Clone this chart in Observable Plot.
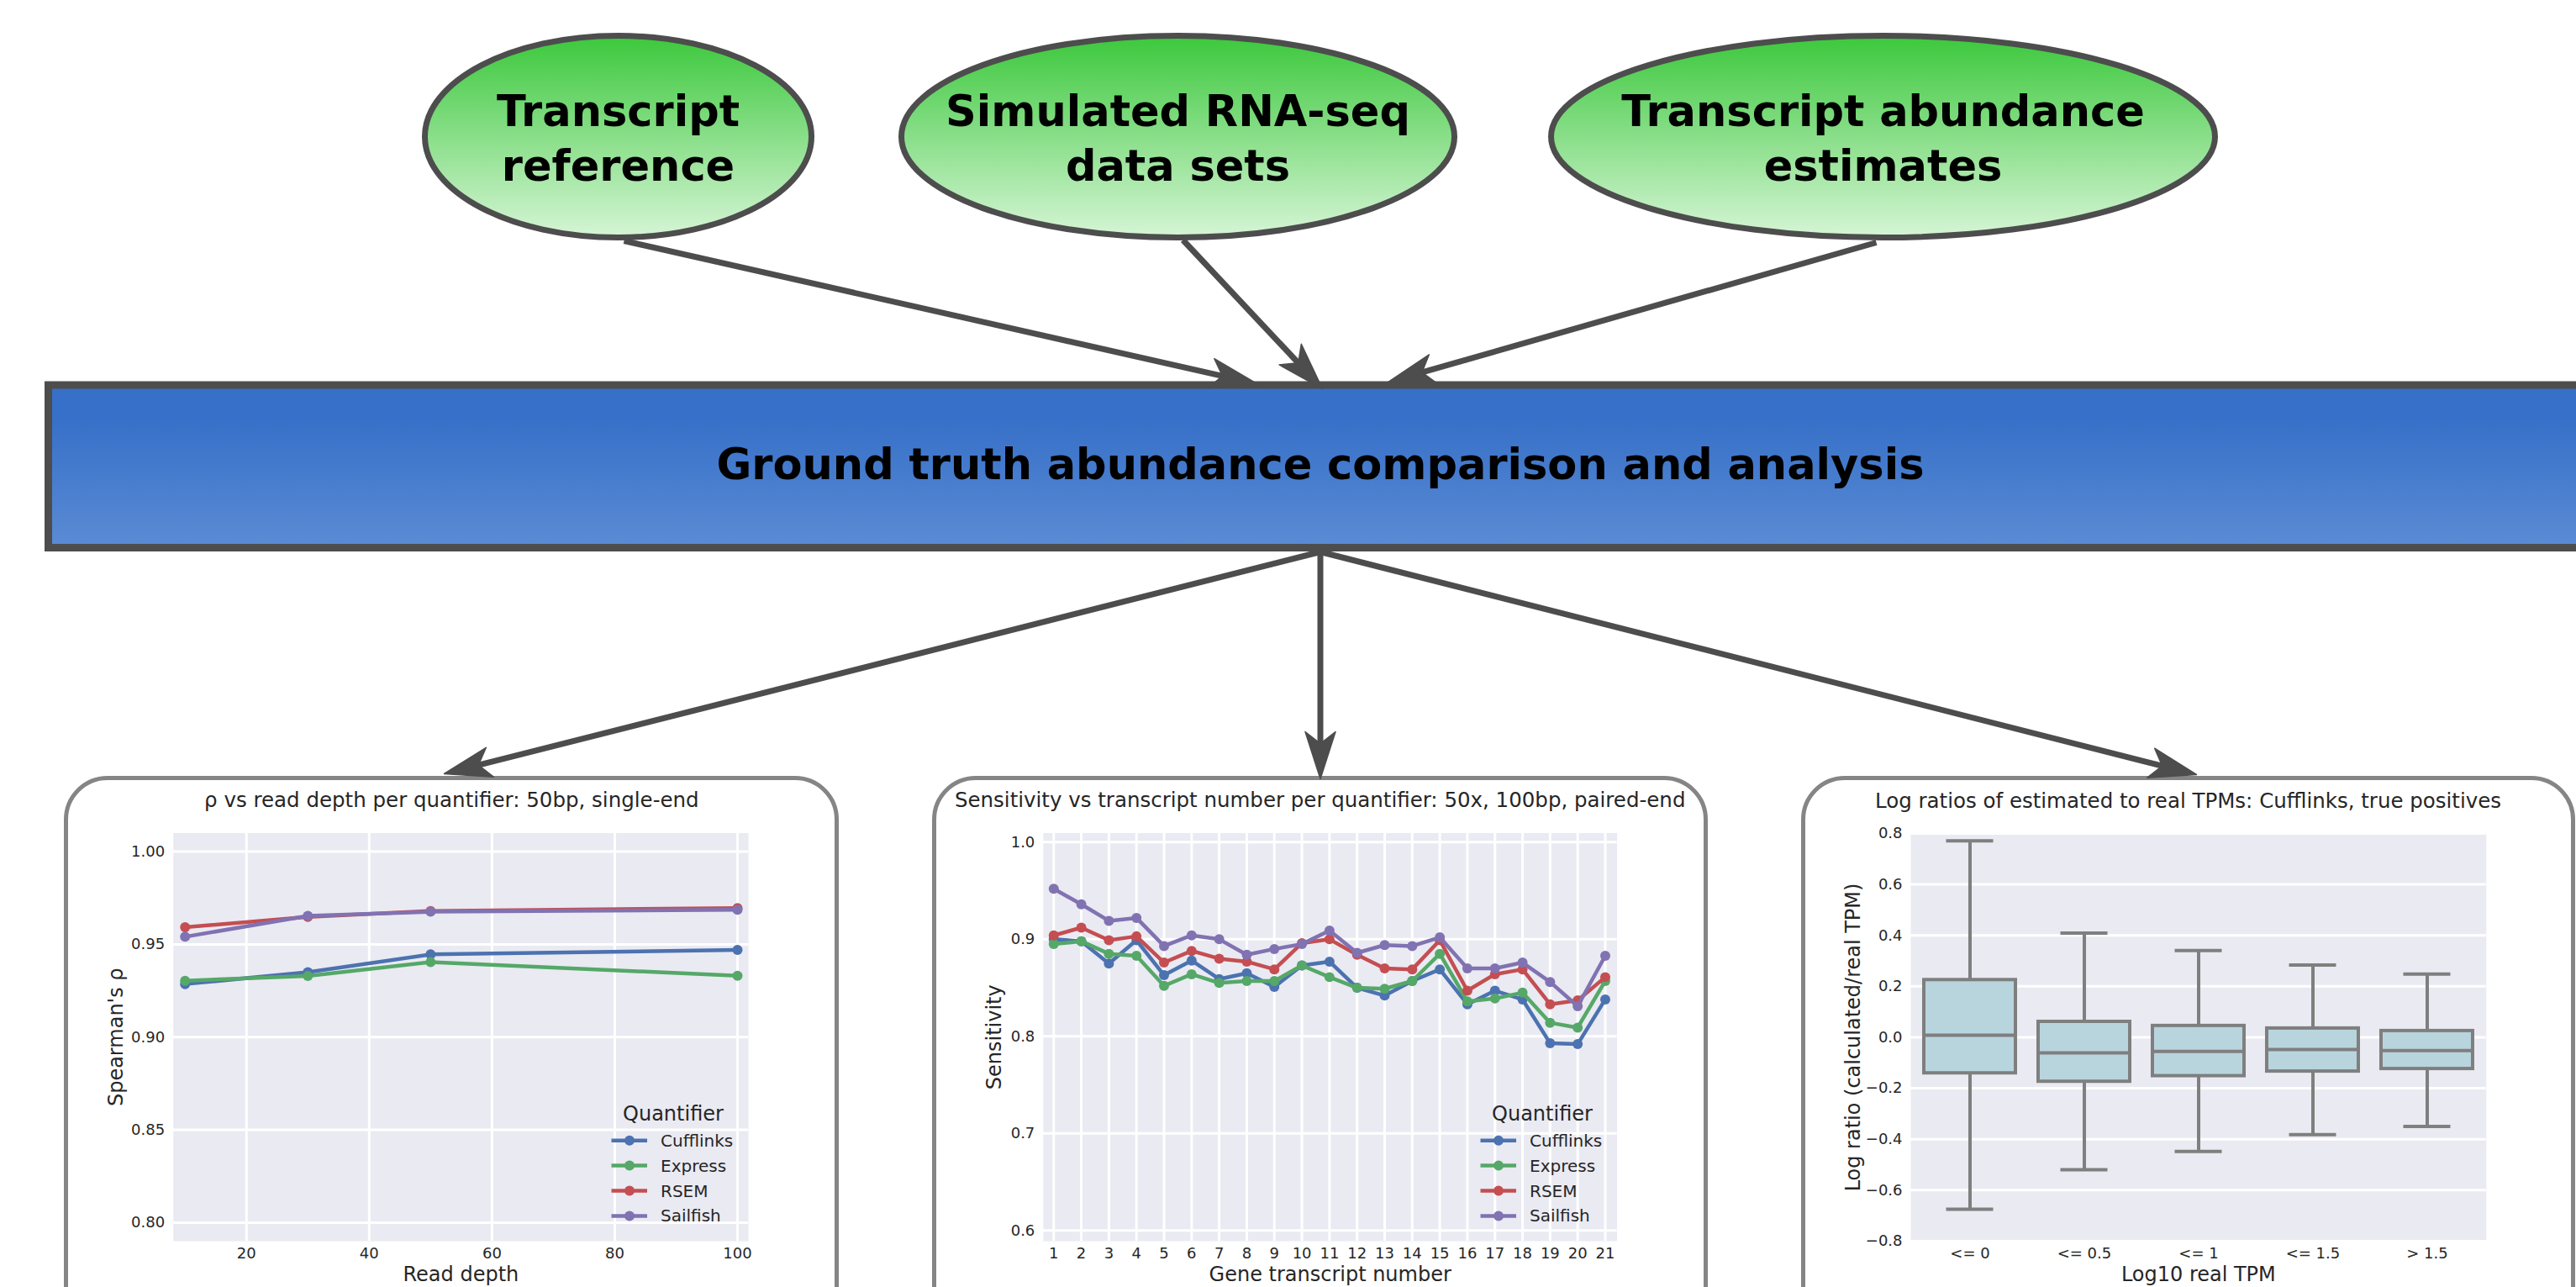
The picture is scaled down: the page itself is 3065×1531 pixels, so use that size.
<!DOCTYPE html>
<html><head><meta charset="utf-8">
<script src="https://cdn.jsdelivr.net/npm/d3@7"></script>
<script src="https://cdn.jsdelivr.net/npm/@observablehq/plot@0.6"></script>
<style>
html,body{margin:0;padding:0;background:#fff;}
body{width:3065px;height:1531px;overflow:hidden;position:relative;font-family:"DejaVu Sans",sans-serif;}
.panel{position:absolute;box-sizing:border-box;border:5px solid #858585;border-radius:52px;background:#fff;z-index:1;}
</style></head><body>
<script>
// ---------- DATA ----------
const nodeLabels = ["Transcript\nreference", "Simulated RNA-seq\ndata sets", "Transcript abundance\nestimates"];
const hubLabel = "Ground truth abundance comparison and analysis";
const panelTitles = [
  "ρ vs read depth per quantifier: 50bp, single-end",
  "Sensitivity vs transcript number per quantifier: 50x, 100bp, paired-end",
  "Log ratios of estimated to real TPMs: Cufflinks, true positives"
];
const xLabels = ["Read depth", "Gene transcript number", "Log10 real TPM"];
const yLabels = ["Spearman's ρ", "Sensitivity", "Log ratio (calculated/real TPM)"];
const legendTitle = "Quantifier";
const quantifiers = ["Cufflinks", "Express", "RSEM", "Sailfish"];
const quantColors = ["#4c72b0", "#55a868", "#c44e52", "#8172b2"];

const readDepth = [10, 30, 50, 100];
const rhoCufflinks = [0.9286, 0.9350, 0.9446, 0.9470];
const rhoExpress   = [0.9304, 0.9330, 0.9404, 0.9331];
const rhoRSEM      = [0.9592, 0.9648, 0.9680, 0.9696];
const rhoSailfish  = [0.9541, 0.9654, 0.9676, 0.9687];
const depthTicks = [20, 40, 60, 80, 100];
const rhoTicks = [0.80, 0.85, 0.90, 0.95, 1.00];

const transcriptNumber = [1,2,3,4,5,6,7,8,9,10,11,12,13,14,15,16,17,18,19,20,21];
const sensCufflinks = [0.900,0.898,0.875,0.899,0.863,0.878,0.859,0.865,0.851,0.873,0.877,0.850,0.842,0.857,0.869,0.833,0.847,0.838,0.793,0.792,0.838];
const sensExpress   = [0.895,0.898,0.885,0.883,0.852,0.864,0.855,0.857,0.857,0.873,0.861,0.850,0.849,0.857,0.885,0.836,0.839,0.845,0.814,0.809,0.857];
const sensRSEM      = [0.904,0.912,0.899,0.903,0.876,0.888,0.880,0.877,0.869,0.896,0.900,0.884,0.870,0.869,0.899,0.847,0.864,0.869,0.833,0.837,0.861];
const sensSailfish  = [0.952,0.936,0.919,0.922,0.893,0.904,0.900,0.884,0.890,0.895,0.909,0.886,0.894,0.893,0.902,0.870,0.870,0.876,0.856,0.831,0.883];
const sensTicks = [0.6, 0.7, 0.8, 0.9, 1.0];

const tpmBins = ["<= 0", "<= 0.5", "<= 1", "<= 1.5", "> 1.5"];
const whiskerLow  = [-0.675, -0.520, -0.448, -0.382, -0.350];
const quartile1   = [-0.141, -0.174, -0.152, -0.134, -0.124];
const medianRatio = [ 0.008, -0.061, -0.055, -0.048, -0.052];
const quartile3   = [ 0.225,  0.061,  0.045,  0.035,  0.025];
const whiskerHigh = [ 0.771,  0.409,  0.341,  0.284,  0.248];
const ratioTicks = [-0.8, -0.6, -0.4, -0.2, 0.0, 0.2, 0.4, 0.6, 0.8];

// ---------- LAYOUT ----------
const W = 3065;
const nodeLayout = [
  {cx: 735, cy: 162, rx: 230, ry: 120},
  {cx: 1401, cy: 162, rx: 329, ry: 120},
  {cx: 2240, cy: 162, rx: 395, ry: 120}
];
const hubLayout = {x1: 57.5, x2: 3400, y1: 458, y2: 651.5, cx: 1570.5, cy: 553};
const arrowLayout = [
  [742, 286, 1495, 456], [1407, 285, 1573, 462], [2232, 288, 1651, 454],
  [1570.5, 656, 528, 920], [1570.5, 656, 1570.5, 926], [1570.5, 656, 2613, 921]
];
const panelBoxes = [[76, 923, 998], [1109, 923, 2032], [2143, 923, 3064]];
const FONT = "DejaVu Sans";
const INK = "#262626";

// ---------- PANEL BOXES ----------
panelBoxes.forEach(([l, t, r]) => {
  const d = document.createElement("div");
  d.className = "panel";
  Object.assign(d.style, {left: l + "px", top: t + "px", width: (r - l) + "px", height: "700px"});
  document.body.appendChild(d);
});

function place(svg, left, top, z) {
  svg.style.position = "absolute";
  svg.style.left = left + "px";
  svg.style.top = top + "px";
  svg.style.zIndex = z;
  svg.style.maxWidth = "none";
  document.body.appendChild(svg);
}

// ---------- DIAGRAM ----------
function ellipseSymbol(rx, ry) {
  const k = 0.5522847498;
  return {draw(ctx) {
    ctx.moveTo(rx, 0);
    ctx.bezierCurveTo(rx, k * ry, k * rx, ry, 0, ry);
    ctx.bezierCurveTo(-k * rx, ry, -rx, k * ry, -rx, 0);
    ctx.bezierCurveTo(-rx, -k * ry, -k * rx, -ry, 0, -ry);
    ctx.bezierCurveTo(k * rx, -ry, rx, -k * ry, rx, 0);
    ctx.closePath();
  }};
}
const nodes = nodeLabels.map((label, i) => ({label, ...nodeLayout[i], ty: nodeLayout[i].cy - 1}));
const hub = {label: hubLabel, ...hubLayout};
const shafts = [], heads = [];
arrowLayout.forEach(([x1, y1, x2, y2], id) => {
  const d = Math.hypot(x2 - x1, y2 - y1), ux = (x2 - x1) / d, uy = (y2 - y1) / d, px = -uy, py = ux;
  const L = 56, hw = 18, notch = 42;
  shafts.push({x1, y1, x2: x2 - ux * 36, y2: y2 - uy * 36});
  heads.push({id, x: x2, y: y2});
  heads.push({id, x: x2 - ux * L + px * hw, y: y2 - uy * L + py * hw});
  heads.push({id, x: x2 - ux * notch, y: y2 - uy * notch});
  heads.push({id, x: x2 - ux * L - px * hw, y: y2 - uy * L - py * hw});
});

const diagram = Plot.plot({
  width: W, height: 960, margin: 0,
  x: {type: "identity", axis: null},
  y: {type: "identity", axis: null},
  style: {background: "transparent", overflow: "visible", fontFamily: FONT},
  marks: [
    Plot.rect([hub], {x1: "x1", x2: "x2", y1: "y1", y2: "y2", fill: "url(#hubGrad)", stroke: "#4d4d4d", strokeWidth: 9}),
    ...nodes.map(n => Plot.dot([n], {x: "cx", y: "cy", r: 10, symbol: ellipseSymbol(n.rx, n.ry),
      fill: "url(#nodeGrad)", stroke: "#4d4d4d", strokeWidth: 7})),
    Plot.link(shafts, {x1: "x1", y1: "y1", x2: "x2", y2: "y2", stroke: "#4d4d4d", strokeWidth: 7}),
    Plot.line(heads, {x: "x", y: "y", z: "id", curve: "linear-closed", fill: "#4d4d4d", stroke: "#4d4d4d", strokeWidth: 1.5}),
    Plot.text(nodes, {x: "cx", y: "ty", text: "label", fontSize: 51, fontWeight: "bold", lineHeight: 1.27, fill: "#000"}),
    Plot.text([hub], {x: "cx", y: "cy", text: "label", fontSize: 51, fontWeight: "bold", fill: "#000"})
  ]
});
const NS = "http://www.w3.org/2000/svg";
const defs = document.createElementNS(NS, "defs");
defs.innerHTML =
  '<linearGradient id="nodeGrad" x1="0" y1="0" x2="0" y2="1">' +
  '<stop offset="0" stop-color="#3cc83c"/><stop offset="1" stop-color="#d6f5d6"/></linearGradient>' +
  '<linearGradient id="hubGrad" x1="0" y1="0" x2="0" y2="1">' +
  '<stop offset="0" stop-color="#3670c8"/><stop offset="0.2" stop-color="#3670c8"/><stop offset="1" stop-color="#5b8bd4"/></linearGradient>';
diagram.insertBefore(defs, diagram.firstChild);
place(diagram, 0, 0, 2);

// ---------- CHART HELPERS ----------
const chartStyle = {background: "transparent", overflow: "visible", fontFamily: FONT, fontSize: "18px", color: INK};
function labelMarks(i, titleDx, yLabelDx) {
  return [
    Plot.text([panelTitles[i]], {text: d => d, frameAnchor: "top", lineAnchor: "middle", dx: titleDx, dy: -38.5, fontSize: 24.5, fill: INK}),
    Plot.text([xLabels[i]], {text: d => d, frameAnchor: "bottom", lineAnchor: "middle", dy: 40, fontSize: 24, fill: INK}),
    Plot.text([yLabels[i]], {text: d => d, frameAnchor: "left", lineAnchor: "middle", textAnchor: "middle", rotate: -90, dx: yLabelDx, fontSize: 24, fill: INK})
  ];
}

function lineChart(cfg) {
  const {i, left, top, fl, fr, ft, fb, xDomain, xTicks, yDomain, yTicks, yFormat, xs, values, titleDx, yLabelDx} = cfg;
  const marks = [
    Plot.frame({fill: "#eaeaf2", stroke: "none"}),
    Plot.ruleX(xTicks, {stroke: "#fff", strokeWidth: 3}),
    Plot.ruleY(yTicks, {stroke: "#fff", strokeWidth: 3})
  ];
  quantifiers.forEach((q, k) => {
    const rows = xs.map((x, j) => ({q, x, y: values[k][j]}));
    marks.push(Plot.line(rows, {x: "x", y: "y", stroke: "q", strokeWidth: 4.5}));
    marks.push(Plot.dot(rows, {x: "x", y: "y", fill: "q", r: 6}));
  });
  marks.push(...labelMarks(i, titleDx, yLabelDx));
  const svg = Plot.plot({
    width: fr - left + 30, height: fb - top + 55,
    marginLeft: fl - left, marginRight: 30, marginTop: ft - top, marginBottom: 55,
    x: {domain: xDomain, ticks: xTicks, tickFormat: d => String(d), tickSize: 0, tickPadding: 8, label: null},
    y: {domain: yDomain, ticks: yTicks, tickFormat: yFormat, tickSize: 0, tickPadding: 10, label: null},
    color: {domain: quantifiers, range: quantColors},
    style: chartStyle,
    marks
  });
  place(svg, left, top, 3);
  addLegend(fr, fb);
}

function addLegend(fr, fb) {
  const w = 175, h = 170;
  const svg = d3.create("svg").attr("width", w).attr("height", h)
    .style("overflow", "visible").style("font-family", FONT);
  svg.append("text").attr("x", w - 89).attr("y", h - 151.5).attr("text-anchor", "middle")
    .attr("dy", "0.35em").attr("font-size", 24).attr("fill", INK).text(legendTitle);
  quantifiers.forEach((q, k) => {
    const y = h - 119.3 + 29.9 * k;
    svg.append("line").attr("x1", w - 162.5).attr("x2", w - 120).attr("y1", y).attr("y2", y)
      .attr("stroke", quantColors[k]).attr("stroke-width", 4.5);
    svg.append("circle").attr("cx", w - 141).attr("cy", y).attr("r", 6).attr("fill", quantColors[k]);
    svg.append("text").attr("x", w - 104).attr("y", y).attr("dy", "0.35em")
      .attr("font-size", 20).attr("fill", INK).text(q);
  });
  place(svg.node(), fr - w, fb - h, 4);
}

// ---------- PANEL 1 ----------
lineChart({
  i: 0, left: 100, top: 975, fl: 205.7, fr: 890, ft: 990.5, fb: 1476,
  xDomain: [8.08, 101.78], xTicks: depthTicks,
  yDomain: [0.79, 1.01], yTicks: rhoTicks, yFormat: d3.format(".2f"),
  xs: readDepth, values: [rhoCufflinks, rhoExpress, rhoRSEM, rhoSailfish],
  titleDx: -11, yLabelDx: -67.7
});

// ---------- PANEL 2 ----------
lineChart({
  i: 1, left: 1135, top: 975, fl: 1240.8, fr: 1923.6, ft: 990.5, fb: 1476,
  xDomain: [0.62, 21.43], xTicks: transcriptNumber,
  yDomain: [0.589, 1.0094], yTicks: sensTicks, yFormat: d3.format(".1f"),
  xs: transcriptNumber, values: [sensCufflinks, sensExpress, sensRSEM, sensSailfish],
  titleDx: -12, yLabelDx: -58.1
});

// ---------- PANEL 3 ----------
(function () {
  const left = 2165, top = 975, fl = 2273, fr = 2957.7, ft = 991, fb = 1476;
  const boxes = tpmBins.map((bin, j) => ({bin, lo: whiskerLow[j], q1: quartile1[j], med: medianRatio[j], q3: quartile3[j], hi: whiskerHigh[j]}));
  const grey = "#7f7f7f", sw = 4;
  const svg = Plot.plot({
    width: fr - left + 30, height: fb - top + 55,
    marginLeft: fl - left, marginRight: 30, marginTop: ft - top, marginBottom: 55,
    x: {domain: tpmBins, paddingInner: 0.2, paddingOuter: 0.1, tickSize: 0, tickPadding: 8, label: null},
    y: {domain: [-0.8, 0.8], ticks: ratioTicks, tickFormat: d3.format(".1f"), tickSize: 0, tickPadding: 10, label: null},
    style: chartStyle,
    marks: [
      Plot.frame({fill: "#eaeaf2", stroke: "none"}),
      Plot.ruleY(ratioTicks, {stroke: "#fff", strokeWidth: 3}),
      Plot.ruleX(boxes, {x: "bin", y1: "q3", y2: "hi", stroke: grey, strokeWidth: sw}),
      Plot.ruleX(boxes, {x: "bin", y1: "lo", y2: "q1", stroke: grey, strokeWidth: sw}),
      Plot.tickY(boxes, {x: "bin", y: "hi", insetLeft: 26.5, insetRight: 26.5, stroke: grey, strokeWidth: sw}),
      Plot.tickY(boxes, {x: "bin", y: "lo", insetLeft: 26.5, insetRight: 26.5, stroke: grey, strokeWidth: sw}),
      Plot.barY(boxes, {x: "bin", y1: "q1", y2: "q3", fill: "#b8d5de", stroke: grey, strokeWidth: sw}),
      Plot.tickY(boxes, {x: "bin", y: "med", stroke: grey, strokeWidth: sw}),
      ...labelMarks(2, -12.3, -68.5)
    ]
  });
  place(svg, left, top, 3);
})();
</script>
</body></html>
